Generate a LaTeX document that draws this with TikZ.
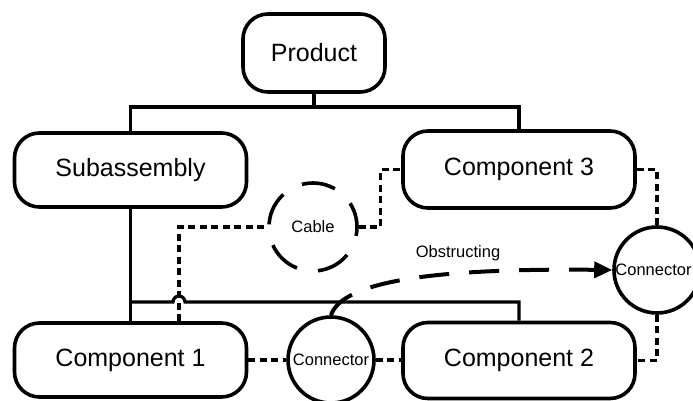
\documentclass[tikz,border=0pt]{standalone}
\usepackage{fontspec}
\setmainfont{Liberation Sans}
\usetikzlibrary{arrows.meta}
\tikzset{
  x=1pt, y=1pt,
  box/.style={draw, line width=3.6pt, rounded corners=25pt, minimum width=232pt, minimum height=74pt, inner sep=0pt, font=\fontsize{25}{30}\selectfont},
  conn/.style={draw, circle, line width=3.6pt, minimum size=86pt, inner sep=0pt, font=\fontsize{16.5}{20}\selectfont},
  cable/.style={conn, dash pattern=on 34pt off 21.3pt, dash phase=9pt},
  tree/.style={line width=3.2pt},
  dots/.style={line width=3.2pt, dash pattern=on 7pt off 4.5pt},
  obstr/.style={line width=4pt, dash pattern=on 30pt off 20pt, -{Triangle[length=18pt,width=16pt]}},
  lbl/.style={font=\fontsize{16.5}{20}\selectfont, inner sep=0pt}
}
\begin{document}
\begin{tikzpicture}
\useasboundingbox (0,0) rectangle (693,-401);
\clip (0,0) rectangle (693,-401);
\fill[white] (0,0) rectangle (693,-401);

\node[box, minimum width=142pt, minimum height=78pt] (prod) at (314,-53) {Product};
\node[box] (sub) at (130.5,-170) {Subassembly};
\node[box, minimum height=77pt] (c3) at (519,-169.5) {Component 3};
\node[box] (c1) at (130.5,-360) {Component 1};
\node[box, minimum height=76pt] (c2) at (519,-360.5) {Component 2};
\node[cable, minimum size=88pt] (cab) at (313,-227) {Cable};
\node[conn] (cr) at (657,-270) {\hspace*{-7pt}Connector};
\node[conn] (cb) at (331,-360) {Connector};
\node[lbl] (obl) at (458,-253) {Obstructing};

\coordinate (t1) at (0,-107);
\coordinate (t2) at (0,-302);
\coordinate (hop) at (179,-302);

% tree lines
\draw[tree] (prod.south) -- (prod.south |- t1);
\draw[tree] (sub.north) |- (t1 -| c3.north) -- (c3.north);
\draw[tree] (sub.south) -- (c1.north);
\draw[tree] (sub.south |- t2) -- ([xshift=-6pt]hop) arc (180:0:6pt) -- (t2 -| c2.north) -- (c2.north);

% dotted links
\draw[dots] (c1.north -| hop) |- (cab.west);
\draw[dots] (cab.east) -- ++(22,0) |- (c3.west);
\draw[dots] (c3.east) -| (cr.north);
\draw[dots] (cr.south) |- (c2.east);
\draw[dots] (c1.east) -- (cb.west);
\draw[dots] (cb.east) -- (c2.west |- cb.east);

% obstructing arrow
\draw[obstr] (cb.north) .. controls (342,-282) and (430,-268) .. (cr.west);
\end{tikzpicture}
\end{document}
